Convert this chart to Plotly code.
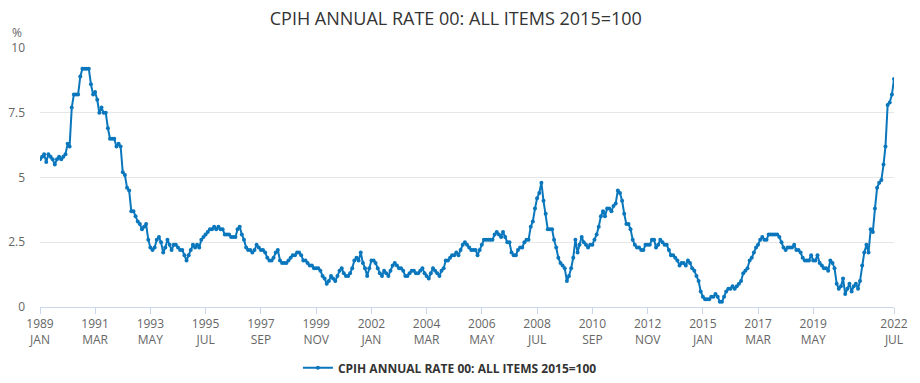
import plotly.graph_objects as go
import pandas as pd

series_name = "CPIH ANNUAL RATE 00: ALL ITEMS 2015=100"
start_month = "1989-01-01"

# Monthly annual rate (%), Jan 1989 .. Jul 2022, grouped by year
y1989 = [5.7, 5.8, 5.9, 5.6, 5.9, 5.8, 5.7, 5.5, 5.7, 5.8, 5.7, 5.8]
y1990 = [5.9, 6.3, 6.2, 7.7, 8.2, 8.2, 8.2, 8.9, 9.2, 9.2, 9.2, 9.2]
y1991 = [8.6, 8.2, 8.3, 8.0, 7.5, 7.7, 7.5, 7.5, 6.9, 6.5, 6.5, 6.5]
y1992 = [6.2, 6.3, 6.2, 5.2, 5.1, 4.6, 4.5, 3.7, 3.7, 3.5, 3.3, 3.2]
y1993 = [3.0, 3.1, 3.2, 2.6, 2.3, 2.2, 2.3, 2.6, 2.7, 2.5, 2.1, 2.3]
y1994 = [2.6, 2.4, 2.2, 2.4, 2.4, 2.3, 2.2, 2.2, 2.0, 1.8, 2.0, 2.2]
y1995 = [2.4, 2.3, 2.4, 2.3, 2.6, 2.7, 2.8, 2.9, 3.0, 3.0, 3.1, 3.0]
y1996 = [3.1, 3.0, 3.0, 2.8, 2.8, 2.8, 2.7, 2.7, 2.7, 3.0, 3.1, 2.8]
y1997 = [2.6, 2.3, 2.2, 2.2, 2.1, 2.2, 2.4, 2.3, 2.2, 2.2, 2.1, 1.9]
y1998 = [1.8, 1.8, 1.9, 2.1, 2.2, 1.8, 1.7, 1.7, 1.7, 1.8, 1.9, 2.0]
y1999 = [2.0, 2.1, 2.1, 2.0, 1.8, 1.8, 1.7, 1.6, 1.6, 1.5, 1.5, 1.5]
y2000 = [1.4, 1.2, 1.1, 0.9, 1.0, 1.2, 1.1, 1.0, 1.2, 1.4, 1.5, 1.3]
y2001 = [1.2, 1.2, 1.3, 1.5, 1.8, 1.9, 1.8, 2.1, 1.7, 1.5, 1.2, 1.5]
y2002 = [1.8, 1.8, 1.7, 1.5, 1.3, 1.2, 1.4, 1.3, 1.2, 1.4, 1.6, 1.7]
y2003 = [1.6, 1.5, 1.5, 1.4, 1.2, 1.2, 1.3, 1.4, 1.4, 1.3, 1.3, 1.4]
y2004 = [1.5, 1.3, 1.2, 1.1, 1.3, 1.5, 1.4, 1.3, 1.2, 1.4, 1.5, 1.8]
y2005 = [1.8, 1.9, 2.0, 2.0, 2.1, 2.0, 2.2, 2.4, 2.5, 2.4, 2.3, 2.2]
y2006 = [2.2, 2.2, 2.0, 2.2, 2.4, 2.6, 2.6, 2.6, 2.6, 2.6, 2.8, 2.9]
y2007 = [2.8, 2.7, 2.9, 2.7, 2.5, 2.5, 2.1, 2.0, 2.0, 2.2, 2.3, 2.3]
y2008 = [2.5, 2.6, 2.6, 3.1, 3.3, 3.8, 4.2, 4.4, 4.8, 4.1, 3.6, 3.0]
y2009 = [3.0, 3.0, 2.6, 2.3, 1.9, 1.7, 1.6, 1.5, 1.0, 1.2, 1.5, 1.9]
y2010 = [2.6, 2.1, 2.4, 2.7, 2.5, 2.4, 2.3, 2.4, 2.4, 2.6, 2.8, 3.1]
y2011 = [3.5, 3.7, 3.5, 3.8, 3.8, 3.7, 3.9, 4.0, 4.5, 4.4, 4.1, 3.6]
y2012 = [3.2, 3.2, 3.0, 2.6, 2.4, 2.3, 2.3, 2.2, 2.2, 2.4, 2.4, 2.4]
y2013 = [2.6, 2.6, 2.3, 2.4, 2.6, 2.5, 2.4, 2.4, 2.2, 2.0, 2.0, 1.9]
y2014 = [1.8, 1.6, 1.7, 1.7, 1.6, 1.8, 1.7, 1.5, 1.4, 1.2, 1.0, 0.6]
y2015 = [0.4, 0.3, 0.3, 0.3, 0.4, 0.4, 0.5, 0.4, 0.2, 0.2, 0.4, 0.6]
y2016 = [0.7, 0.7, 0.8, 0.7, 0.8, 0.9, 1.0, 1.3, 1.4, 1.5, 1.8, 1.9]
y2017 = [2.1, 2.3, 2.4, 2.6, 2.7, 2.6, 2.6, 2.8, 2.8, 2.8, 2.8, 2.8]
y2018 = [2.7, 2.5, 2.3, 2.2, 2.3, 2.3, 2.3, 2.4, 2.2, 2.2, 2.1, 1.9]
y2019 = [1.8, 1.8, 1.8, 2.0, 1.8, 1.8, 2.0, 1.7, 1.6, 1.5, 1.5, 1.4]
y2020 = [1.8, 1.7, 1.5, 0.9, 0.7, 0.8, 1.1, 0.5, 0.7, 0.9, 0.6, 0.8]
y2021 = [0.9, 0.7, 1.0, 1.6, 2.1, 2.4, 2.1, 3.0, 2.9, 3.8, 4.6, 4.8]
y2022 = [4.9, 5.5, 6.2, 7.8, 7.9, 8.2, 8.8]

tick_dates = ["1989-01-01", "1991-03-01", "1993-05-01", "1995-07-01", "1997-09-01",
              "1999-11-01", "2002-01-01", "2004-03-01", "2006-05-01", "2008-07-01",
              "2010-09-01", "2012-11-01", "2015-01-01", "2017-03-01", "2019-05-01",
              "2022-07-01"]
tick_labels = ["1989<br>JAN", "1991<br>MAR", "1993<br>MAY", "1995<br>JUL", "1997<br>SEP",
               "1999<br>NOV", "2002<br>JAN", "2004<br>MAR", "2006<br>MAY", "2008<br>JUL",
               "2010<br>SEP", "2012<br>NOV", "2015<br>JAN", "2017<br>MAR", "2019<br>MAY",
               "2022<br>JUL"]
y_ticks = [0, 2.5, 5, 7.5, 10]
y_tick_labels = ["0", "2.5", "5", "7.5", "10"]

values = (y1989 + y1990 + y1991 + y1992 + y1993 + y1994 + y1995 + y1996 + y1997 +
          y1998 + y1999 + y2000 + y2001 + y2002 + y2003 + y2004 + y2005 + y2006 +
          y2007 + y2008 + y2009 + y2010 + y2011 + y2012 + y2013 + y2014 + y2015 +
          y2016 + y2017 + y2018 + y2019 + y2020 + y2021 + y2022)
dates = pd.date_range(start_month, periods=len(values), freq="MS")

FONT = "Open Sans, Arial, sans-serif"
BLUE = "#0a77bd"

fig = go.Figure()
fig.add_trace(go.Scatter(
    x=dates, y=values, mode="lines+markers", name=series_name,
    line=dict(color=BLUE, width=2),
    marker=dict(color=BLUE, size=4),
))

# The page body has an 8px margin, so the figure is 8px smaller on each axis
fig.update_layout(
    width=912, height=375,
    margin=dict(l=32, r=26, t=40, b=76, autoexpand=False),
    paper_bgcolor="white", plot_bgcolor="white",
    font=dict(family=FONT, color="#666666", size=12),
    title=dict(text=series_name, x=0.491, xanchor="center", y=0.971, yanchor="middle",
               font=dict(family=FONT, size=18, color="#333333")),
    showlegend=True,
    legend=dict(orientation="h", x=0.480, xanchor="center", y=-0.235, yanchor="middle",
                font=dict(family=FONT, size=12, color="#333333", weight="bold"),
                itemwidth=30),
    xaxis=dict(
        automargin=False,
        range=[dates[0], dates[-1]],
        tickmode="array", tickvals=tick_dates, ticktext=tick_labels,
        showgrid=False, showline=True, linecolor="#ccd6eb", linewidth=1,
        ticks="outside", ticklen=6, tickcolor="#ccd6eb",
        tickfont=dict(family=FONT, size=12, color="#666666"),
        zeroline=False,
    ),
    yaxis=dict(
        automargin=False,
        range=[0, 10], tickmode="array", tickvals=y_ticks, ticktext=y_tick_labels,
        showgrid=True, gridcolor="#e6e6e6", gridwidth=1,
        zeroline=False, showline=False, ticks="", ticklabelstandoff=14,
        tickfont=dict(family=FONT, size=12, color="#666666"),
    ),
    annotations=[dict(text="%", xref="paper", yref="paper", x=-0.027, y=1.058,
                      xanchor="center", yanchor="middle", showarrow=False,
                      font=dict(family=FONT, size=12, color="#666666"))],
)

fig.write_html("out.html")
